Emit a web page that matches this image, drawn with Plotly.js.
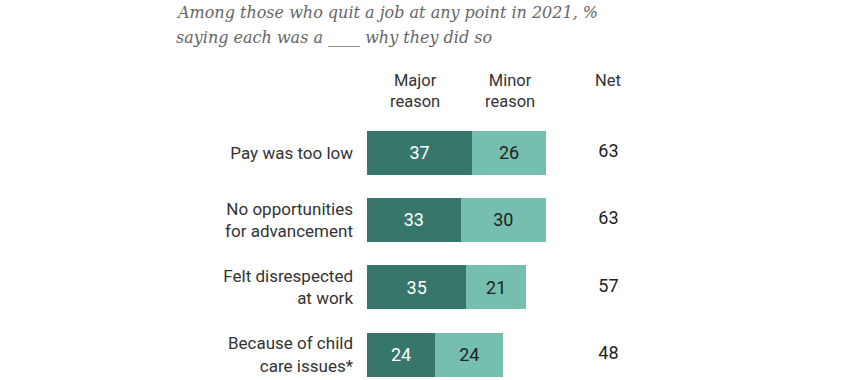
<!DOCTYPE html>
<html>
<head>
<meta charset="utf-8">
<script src="https://cdn.plot.ly/plotly-3.0.1.min.js"></script>
<style>html,body{margin:0;padding:0;background:#fff;}#chart{width:844px;height:380px;}</style>
</head>
<body>
<div id="chart"></div>
<script>
const categories = ["Pay was too low", "No opportunities<br>for advancement", "Felt disrespected<br>at work", "Because of child<br>care issues*"];
const majorReason = [37, 33, 35, 24];
const minorReason = [26, 30, 21, 24];
const netValues = [63, 63, 57, 48];
const headerLabels = ["Major<br>reason", "Minor<br>reason", "Net"];
const titleLines = ["Among those who quit a job at any point in 2021, %", "saying each was a ____ why they did so"];

const sans = "Roboto, 'Liberation Sans', Arial, sans-serif";
const serif = "'DejaVu Serif', Georgia, serif";
const plotLeft = 367, plotW = 284, plotTop = 119, plotH = 261;
const py = p => (plotTop + plotH - p) / plotH; // pixel row -> paper y
const px = p => (p - plotLeft) / plotW;          // pixel col -> paper x

const traces = [
  {
    type: "bar", orientation: "h", y: categories, x: majorReason, name: "Major reason",
    marker: {color: "#37766A", line: {width: 0}},
    text: majorReason.map(String), textposition: "inside", insidetextanchor: "middle",
    textfont: {family: sans, size: 18, color: "#ffffff"}, width: 0.655, hoverinfo: "skip"
  },
  {
    type: "bar", orientation: "h", y: categories, x: minorReason, name: "Minor reason",
    marker: {color: "#76BFAE", line: {width: 0}},
    text: minorReason.map(String), textposition: "inside", insidetextanchor: "middle",
    textfont: {family: sans, size: 18, color: "#222222"}, width: 0.655, hoverinfo: "skip"
  },
  {
    type: "scatter", mode: "text", y: categories, x: netValues.map(() => 85),
    text: netValues.map(String), textposition: "middle center",
    textfont: {family: sans, size: 18, color: "#222222"}, hoverinfo: "skip", cliponaxis: false
  }
];

const headerX = [16.9, 50.5, 85];
const annotations = headerLabels.map((h, i) => ({
  text: h, x: headerX[i], xref: "x", y: py(i === 2 ? 80 : 91), yref: "paper",
  xanchor: "center", yanchor: "middle", showarrow: false,
  font: {family: sans, size: 16.5, color: "#333333"}, align: "center"
}));
titleLines.forEach((t, i) => annotations.push({
  text: t, x: px(174), xref: "paper", y: py(i === 0 ? 13 : 37), yref: "paper",
  xanchor: "left", yanchor: "middle", showarrow: false, align: "left",
  font: {family: serif, size: 16, color: "#666666", style: "italic"}
}));

const layout = {
  width: 844, height: 380,
  margin: {l: plotLeft, r: 844 - plotLeft - plotW, t: plotTop, b: 0},
  paper_bgcolor: "#ffffff", plot_bgcolor: "#ffffff",
  barmode: "stack", showlegend: false,
  xaxis: {range: [0, 100], visible: false, fixedrange: true},
  yaxis: {
    range: [3.378, -0.5], showgrid: false, zeroline: false, showline: false,
    ticks: "", ticklabelstandoff: 13,
    tickfont: {family: sans, size: 17, color: "#333333"}
  },
  annotations: annotations
};

Plotly.newPlot("chart", traces, layout, {staticPlot: true, displayModeBar: false});
</script>
</body>
</html>
